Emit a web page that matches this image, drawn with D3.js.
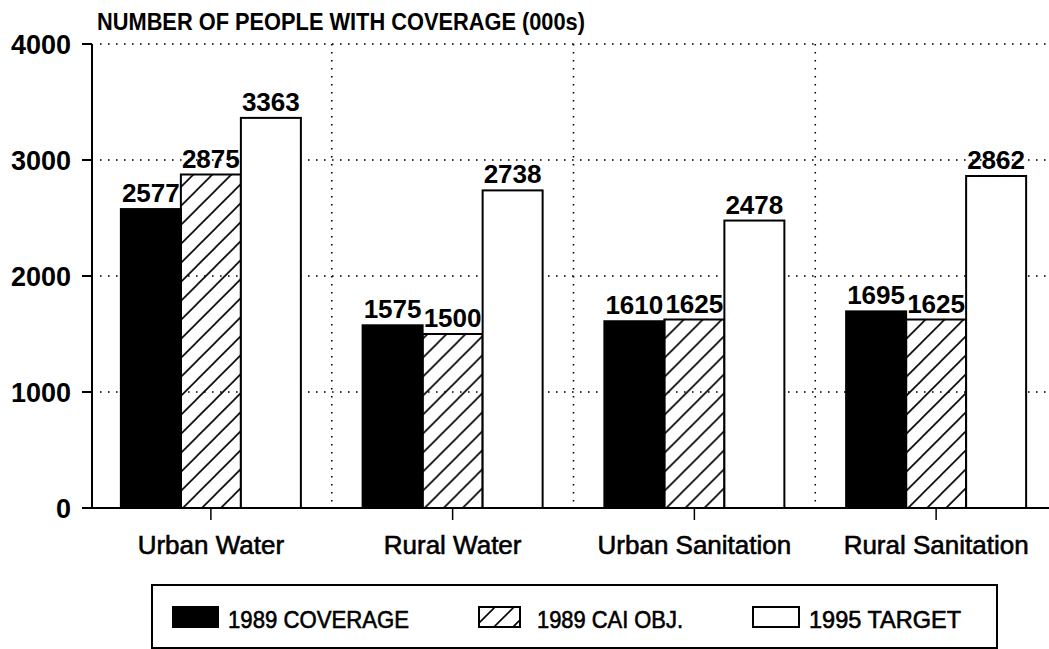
<!DOCTYPE html>
<html>
<head>
    <meta charset="utf-8">
    <title></title>
    <style>
        body { margin: 0; background: #fff; }
        text {
            font-family: "Liberation Sans", Arial, Helvetica, sans-serif;
            fill: #000;
        }
        .grid {
            stroke: #000;
            stroke-width: 1.6px;
            stroke-dasharray: 1.6, 6.4;
            fill: none;
        }
    </style>
</head>
<body>
    <script src="https://cdn.jsdelivr.net/npm/d3@7"></script>
    <script>
        var categories = ["Urban Water", "Rural Water", "Urban Sanitation", "Rural Sanitation"];
        var seriesNames = ["1989 COVERAGE", "1989 CAI OBJ.", "1995 TARGET"];
        var coverage1989 = [2577, 1575, 1610, 1695];
        var caiObj1989 = [2875, 1500, 1625, 1625];
        var target1995 = [3363, 2738, 2478, 2862];
        var yTicks = [0, 1000, 2000, 3000, 4000];
        var yTitle = "NUMBER OF PEOPLE WITH COVERAGE (000s)";

        var width = 1049,
            height = 649;
        var axisX = 92,
            groupWidth = 180;

        var series = [coverage1989, caiObj1989, target1995];
        var fills = ["#000", "url(#hatch)", "#fff"];

        var svg = d3.select("body").append("svg")
            .attr("width", width)
            .attr("height", height);

        // diagonal hatch for the CAI objective
        svg.append("defs").append("pattern")
            .attr("id", "hatch")
            .attr("patternUnits", "userSpaceOnUse")
            .attr("width", 19)
            .attr("height", 19)
            .append("path")
            .attr("d", "M-2,21 L21,-2 M-5,5 L5,-5 M14,24 L24,14")
            .attr("stroke", "#000")
            .attr("stroke-width", 1.6);

        var y = d3.scaleLinear().domain([0, 4000]).range([508, 44]);
        var x0 = d3.scaleBand().domain(categories).range([90, 1057]);
        var x1 = d3.scaleBand().domain(d3.range(series.length)).range([0, groupWidth]);

        // grid
        svg.append("g").selectAll("line")
            .data(yTicks.slice(1))
            .enter().append("line")
            .attr("class", "grid")
            .attr("x1", axisX + 8)
            .attr("x2", width)
            .attr("y1", function(d) { return y(d); })
            .attr("y2", function(d) { return y(d); });
        svg.append("g").selectAll("line")
            .data(categories.slice(1))
            .enter().append("line")
            .attr("class", "grid")
            .attr("x1", function(d) { return x0(d); })
            .attr("x2", function(d) { return x0(d); })
            .attr("y1", y(4000))
            .attr("y2", y(0));

        // bars
        var groups = svg.append("g").selectAll("g")
            .data(categories)
            .enter().append("g")
            .attr("transform", function(d) {
                return "translate(" + (x0(d) + (x0.bandwidth() - groupWidth) / 2) + ",0)";
            });
        groups.selectAll("rect")
            .data(function(d, i) {
                return series.map(function(s, j) { return { s: j, value: s[i] }; });
            })
            .enter().append("rect")
            .attr("x", function(d) { return x1(d.s); })
            .attr("width", x1.bandwidth())
            .attr("y", function(d) { return y(d.value); })
            .attr("height", function(d) { return y(0) - y(d.value); })
            .attr("fill", function(d) { return fills[d.s]; })
            .attr("stroke", "#000")
            .attr("stroke-width", 2);
        groups.selectAll("text")
            .data(function(d, i) {
                return series.map(function(s, j) { return { s: j, value: s[i] }; });
            })
            .enter().append("text")
            .attr("x", function(d) { return x1(d.s) + x1.bandwidth() / 2; })
            .attr("y", function(d) { return y(d.value) - 7; })
            .attr("text-anchor", "middle")
            .attr("font-size", 26)
            .attr("font-weight", "bold")
            .attr("textLength", 58)
            .attr("lengthAdjust", "spacingAndGlyphs")
            .text(function(d) { return d.value; });

        // y axis
        svg.append("line")
            .attr("x1", axisX).attr("x2", axisX)
            .attr("y1", y(4000)).attr("y2", y(0))
            .attr("stroke", "#000").attr("stroke-width", 2);
        svg.append("g").selectAll("line")
            .data(yTicks)
            .enter().append("line")
            .attr("x1", axisX - 10).attr("x2", axisX)
            .attr("y1", function(d) { return y(d); })
            .attr("y2", function(d) { return y(d); })
            .attr("stroke", "#000").attr("stroke-width", 2);
        svg.append("g").selectAll("text")
            .data(yTicks)
            .enter().append("text")
            .attr("x", axisX - 21)
            .attr("y", function(d) { return y(d) + 10; })
            .attr("text-anchor", "end")
            .attr("font-size", 27)
            .attr("font-weight", "bold")
            .text(function(d) { return d; });
        svg.append("text")
            .attr("x", 97)
            .attr("y", 30)
            .attr("font-size", 23)
            .attr("font-weight", "bold")
            .attr("textLength", 488)
            .attr("lengthAdjust", "spacingAndGlyphs")
            .text(yTitle);

        // x axis
        svg.append("line")
            .attr("x1", axisX).attr("x2", width)
            .attr("y1", y(0)).attr("y2", y(0))
            .attr("stroke", "#000").attr("stroke-width", 2);
        svg.append("g").selectAll("line")
            .data(categories)
            .enter().append("line")
            .attr("x1", function(d) { return x0(d) + x0.bandwidth() / 2; })
            .attr("x2", function(d) { return x0(d) + x0.bandwidth() / 2; })
            .attr("y1", y(0)).attr("y2", y(0) + 12)
            .attr("stroke", "#000").attr("stroke-width", 1.5);
        svg.append("g").selectAll("text")
            .data(categories)
            .enter().append("text")
            .attr("x", function(d) { return x0(d) + x0.bandwidth() / 2; })
            .attr("y", 554)
            .attr("text-anchor", "middle")
            .attr("font-size", 26)
            .attr("stroke", "#000")
            .attr("stroke-width", 0.6)
            .text(function(d) { return d; });

        // legend
        var legend = svg.append("g");
        legend.append("rect")
            .attr("x", 152).attr("y", 585)
            .attr("width", 845).attr("height", 63)
            .attr("fill", "none")
            .attr("stroke", "#000").attr("stroke-width", 2);
        var legendX = [173, 479, 753];
        var swatchW = [45, 41, 46];
        var textW = [181, 146, 152];
        var items = legend.selectAll("g.item")
            .data(seriesNames)
            .enter().append("g")
            .attr("class", "item");
        items.append("rect")
            .attr("x", function(d, i) { return legendX[i]; })
            .attr("y", 607)
            .attr("width", function(d, i) { return swatchW[i]; })
            .attr("height", 20)
            .attr("fill", function(d, i) { return fills[i]; })
            .attr("stroke", "#000")
            .attr("stroke-width", 2);
        items.append("text")
            .attr("x", function(d, i) { return legendX[i] + swatchW[i] + (i == 1 ? 17 : 10); })
            .attr("y", 628)
            .attr("font-size", 24)
            .attr("stroke", "#000")
            .attr("stroke-width", 0.6)
            .attr("textLength", function(d, i) { return textW[i]; })
            .attr("lengthAdjust", "spacingAndGlyphs")
            .text(function(d) { return d; });
    </script>
</body>
</html>
